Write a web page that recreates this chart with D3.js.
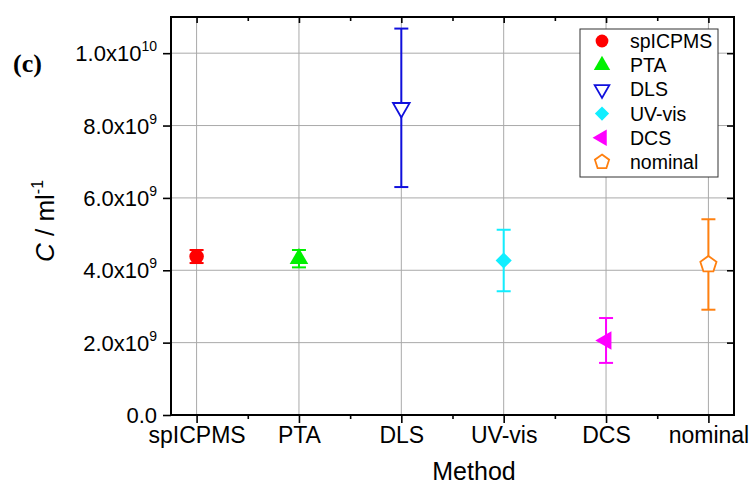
<!DOCTYPE html>
<html><head><meta charset="utf-8">
<script src="https://cdn.jsdelivr.net/npm/d3@7"></script>
<style>body{margin:0;background:#fff}svg{display:block}</style>
</head><body>
<svg id="c" width="750" height="489"></svg>
<script>
const categories = ["spICPMS","PTA","DLS","UV-vis","DCS","nominal"];
const values = [4.38e9, 4.32e9, 8.49e9, 4.27e9, 2.06e9, 4.16e9];
const errors = [0.18e9, 0.24e9, 2.19e9, 0.85e9, 0.62e9, 1.25e9];
const colors = ["#ff0000","#00f000","#1010dd","#11eeff","#ff00ff","#ff8010"];
const yTicks = [0, 2e9, 4e9, 6e9, 8e9, 1e10];
const yTickMant = ["0.0","2.0x10","4.0x10","6.0x10","8.0x10","1.0x10"];
const yTickExp = ["","9","9","9","9","10"];

const svg = d3.select("#c");
const L=171, R=734, T=17, B=415;
const x = d3.scaleLinear().domain([0.75, 6.25]).range([L, R]);
const y = d3.scaleLinear().domain([0, 1.1e10]).range([B, T]);
const font = "'Liberation Sans', Arial, sans-serif";

// grid
const g = svg.append("g");
categories.forEach((c,i)=>{
  g.append("line").attr("x1",x(i+1)).attr("x2",x(i+1)).attr("y1",T).attr("y2",B)
   .attr("stroke","#aaaaaa").attr("stroke-width",1);
});
yTicks.slice(1).forEach(v=>{
  g.append("line").attr("x1",L).attr("x2",R).attr("y1",y(v)).attr("y2",y(v))
   .attr("stroke","#aaaaaa").attr("stroke-width",1);
});

// axes
const xAxisB = d3.axisBottom(x).tickValues(d3.range(1,7)).tickSize(8).tickFormat(d=>categories[d-1]).tickPadding(4);
const xMinorB = d3.axisBottom(x).tickValues(d3.range(1.5,6.5,1)).tickSize(4).tickFormat("");
const xAxisT = d3.axisTop(x).tickValues(d3.range(1,7)).tickSize(-6).tickFormat("");
const xMinorT = d3.axisTop(x).tickValues(d3.range(1.5,6.5,1)).tickSize(-4).tickFormat("");
const yAxisL = d3.axisLeft(y).tickValues(yTicks).tickSize(8).tickFormat("");
const yAxisR = d3.axisRight(y).tickValues(yTicks.slice(1)).tickSize(-7).tickFormat("");

function style(sel){
  sel.selectAll(".domain").remove();
  sel.selectAll(".tick line").attr("stroke","#000").attr("stroke-width",1.6);
}
svg.append("g").attr("transform",`translate(0,${B})`).call(xAxisB).call(style)
  .selectAll("text").attr("font-family",font).attr("font-size",23).attr("fill","#000");
svg.append("g").attr("transform",`translate(0,${B})`).call(xMinorB).call(style);
svg.append("g").attr("transform",`translate(0,${T})`).call(xAxisT).call(style);
svg.append("g").attr("transform",`translate(0,${T})`).call(xMinorT).call(style);
svg.append("g").attr("transform",`translate(${L},0)`).call(yAxisL).call(style);
svg.append("g").attr("transform",`translate(${R},0)`).call(yAxisR).call(style);

// y tick labels with superscripts
yTicks.forEach((v,i)=>{
  const t = svg.append("text").attr("x",157).attr("y",y(v)+8).attr("text-anchor","end")
    .attr("font-family",font).attr("font-size",22).attr("fill","#000");
  t.append("tspan").text(yTickMant[i]);
  if (yTickExp[i]) t.append("tspan").attr("font-size",14).attr("dy",-10).text(yTickExp[i]);
});

// frame
svg.append("rect").attr("x",L).attr("y",T).attr("width",R-L).attr("height",B-T)
  .attr("fill","none").attr("stroke","#000").attr("stroke-width",2);

// markers
function pentagon(r){
  const pts = d3.range(5).map(k=>{const a=-Math.PI/2 + k*2*Math.PI/5; return [r*Math.cos(a), r*Math.sin(a)];});
  return d3.line()(pts)+"Z";
}
const markerDefs = [
  {path:d3.symbol(d3.symbolCircle,165)(), rot:0, fill:true},
  {path:d3.symbol(d3.symbolTriangle,150)(), rot:0, fill:true},
  {path:d3.symbol(d3.symbolTriangle,120)(), rot:180, fill:false},
  {path:d3.symbol(d3.symbolSquare,130)(), rot:45, fill:true},
  {path:d3.symbol(d3.symbolTriangle,150)(), rot:-90, fill:true},
  {path:pentagon(8.5), rot:0, fill:false}
];
function drawMarker(sel, i, cx, cy, scale){
  const m = markerDefs[i];
  sel.append("path").attr("d",m.path)
    .attr("transform",`translate(${cx},${cy}) rotate(${m.rot}) scale(${scale})`)
    .attr("fill", m.fill ? colors[i] : "#fff")
    .attr("stroke", colors[i]).attr("stroke-width", m.fill?0:1.8/scale);
}

const pts = svg.append("g");
categories.forEach((c,i)=>{
  const cx = x(i+1), v = values[i], e = errors[i];
  const col = colors[i];
  pts.append("line").attr("x1",cx).attr("x2",cx).attr("y1",y(v+e)).attr("y2",y(v-e)).attr("stroke",col).attr("stroke-width",2);
  [v+e, v-e].forEach(w=>{
    pts.append("line").attr("x1",cx-7).attr("x2",cx+7).attr("y1",y(w)).attr("y2",y(w)).attr("stroke",col).attr("stroke-width",2);
  });
  drawMarker(pts, i, cx, y(v), 1);
});

// legend
const lg = svg.append("g");
lg.append("rect").attr("x",580).attr("y",29).attr("width",138).attr("height",148)
  .attr("fill","#fff").attr("stroke","#333").attr("stroke-width",1);
categories.forEach((c,i)=>{
  const ly = 41 + i*24.2;
  drawMarker(lg, i, 602, ly, 0.88);
  lg.append("text").attr("x",630).attr("y",ly+7).attr("font-family",font).attr("font-size",19.5).attr("fill","#000").text(c);
});

// axis titles
svg.append("text").attr("x",474).attr("y",480).attr("text-anchor","middle")
  .attr("font-family",font).attr("font-size",25).attr("fill","#000").text("Method");
const yl = svg.append("text").attr("transform","translate(54,221) rotate(-90)").attr("text-anchor","middle")
  .attr("font-family",font).attr("font-size",26).attr("fill","#000");
yl.append("tspan").attr("font-style","italic").text("C");
yl.append("tspan").text(" / ml");
yl.append("tspan").attr("font-size",16).attr("dy",-11).text("-1");

svg.append("text").attr("x",13).attr("y",72).attr("font-family","'Liberation Serif', 'DejaVu Serif', serif")
  .attr("font-weight","bold").attr("font-size",26).attr("fill","#000").text("(c)");
</script>
</body></html>
